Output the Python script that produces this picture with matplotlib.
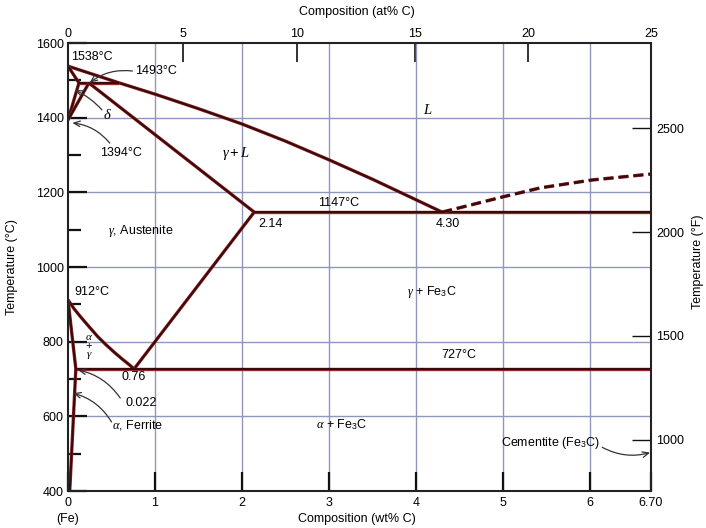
import matplotlib
matplotlib.use("Agg")
import matplotlib.pyplot as plt
import matplotlib.patheffects as pe

plt.rcParams["font.family"] = ["Liberation Sans", "DejaVu Sans"]
plt.rcParams["mathtext.fontset"] = "custom"
plt.rcParams["mathtext.rm"] = "Liberation Sans"
plt.rcParams["mathtext.it"] = "Liberation Serif:italic"
plt.rcParams["mathtext.bf"] = "Liberation Sans:bold"

# ---- phase boundaries, (wt% C, deg C) ----
liquidus_wt = [0.0, 0.59, 1.0, 1.5, 2.0, 2.5, 3.0, 3.5, 4.30]
liquidus_T = [1538, 1493, 1463, 1424, 1383, 1337, 1287, 1235, 1147]

delta_solidus_wt = [0.0, 0.126]
delta_solidus_T = [1538, 1493]
delta_solvus_wt = [0.126, 0.0]
delta_solvus_T = [1493, 1394]
peritectic_wt = [0.126, 0.59]
peritectic_T = [1493, 1493]
gamma_left_wt = [0.0, 0.24]
gamma_left_T = [1394, 1493]
gamma_solidus_wt = [0.24, 2.14]
gamma_solidus_T = [1493, 1147]

eutectic_wt = [2.14, 6.70]
eutectic_T = [1147, 1147]
cementite_liq_wt = [4.30, 4.66, 5.0, 5.43, 6.02, 6.70]
cementite_liq_T = [1147, 1168, 1188, 1212, 1233, 1249]

acm_wt = [2.14, 0.76]
acm_T = [1147, 727]
a3_wt = [0.0, 0.07, 0.15, 0.25, 0.34, 0.44, 0.53, 0.62, 0.70, 0.76]
a3_T = [912, 888, 865, 838, 814, 791, 772, 754, 739, 727]
alpha_gamma_wt = [0.0, 0.09]
alpha_gamma_T = [912, 727]
eutectoid_wt = [0.09, 6.70]
eutectoid_T = [727, 727]
alpha_solvus_wt = [0.09, 0.02]
alpha_solvus_T = [727, 400]

# ---- axes ticks ----
wt_ticks = [0, 1, 2, 3, 4, 5, 6, 6.70]
wt_tick_labels = ["0", "1", "2", "3", "4", "5", "6", "6.70"]
T_major = [400, 600, 800, 1000, 1200, 1400, 1600]
T_minor = [500, 700, 900, 1100, 1300, 1500]
at_tick_pos_wt = [0, 1.32, 2.63, 3.99, 5.29, 6.70]
at_tick_labels = ["0", "5", "10", "15", "20", "25"]
F_ticks = [1000, 1500, 2000, 2500]

W, H = 706, 528
fig = plt.figure(figsize=(W / 100, H / 100), dpi=100)
ax = fig.add_axes([68 / W, 37 / H, 583 / W, 448 / H])
ax.set_xlim(0, 6.70)
ax.set_ylim(400, 1600)

grid_c = "#8f97bd"
for x in [1, 2, 3, 4, 5, 6]:
    ax.axvline(x, color=grid_c, lw=1.0, zorder=1)
for y in [600, 800, 1000, 1200, 1400]:
    ax.axhline(y, color=grid_c, lw=1.0, zorder=1)

line_c = "#3a0a0b"
edge_c = "#9a2a2a"


def boundary(xs, ys, **kw):
    ax.plot(xs, ys, color=line_c, lw=1.5, zorder=3,
            solid_joinstyle="round", solid_capstyle="butt",
            path_effects=[pe.Stroke(linewidth=2.4, foreground=edge_c), pe.Normal()],
            **kw)


for xs, ys in [(liquidus_wt, liquidus_T), (delta_solidus_wt, delta_solidus_T),
               (delta_solvus_wt, delta_solvus_T), (peritectic_wt, peritectic_T),
               (gamma_left_wt, gamma_left_T), (gamma_solidus_wt, gamma_solidus_T),
               (eutectic_wt, eutectic_T), (acm_wt, acm_T), (a3_wt, a3_T),
               (alpha_gamma_wt, alpha_gamma_T), (eutectoid_wt, eutectoid_T),
               (alpha_solvus_wt, alpha_solvus_T)]:
    boundary(xs, ys)
ax.plot(cementite_liq_wt, cementite_liq_T, color=line_c, lw=1.8, zorder=3,
        dashes=(4.0, 2.0), dash_capstyle="butt",
        path_effects=[pe.Stroke(linewidth=2.5, foreground=edge_c), pe.Normal()])

# ---- frame and ticks ----
for s in ax.spines.values():
    s.set_color("#222222")
    s.set_linewidth(1.5)
    s.set_zorder(5)
ax.set_xticks(wt_ticks, wt_tick_labels)
ax.set_yticks(T_major)
ax.set_yticks(T_minor, minor=True)
ax.tick_params(axis="both", which="major", direction="in", length=14, width=1.6,
               color="#111111", labelsize=9, pad=3)
ax.tick_params(axis="y", which="minor", direction="in", length=9, width=1.6,
               color="#111111")
ax.tick_params(axis="x", which="major", pad=4)
ax.tick_params(axis="y", which="major", pad=3)

top = ax.secondary_xaxis("top", functions=(lambda v: v, lambda v: v))
top.set_xticks(at_tick_pos_wt, at_tick_labels)
top.tick_params(direction="in", length=14, width=1.2, color="#111111",
                labelsize=9, pad=2)
top.spines["top"].set_visible(False)


def c2f(c):
    return c * 9 / 5 + 32


def f2c(f):
    return (f - 32) * 5 / 9


right = ax.secondary_yaxis("right", functions=(c2f, f2c))
right.set_yticks(F_ticks)
right.tick_params(direction="in", length=14, width=1.0, color="#111111",
                  labelsize=9, pad=4)
right.spines["right"].set_visible(False)

# ---- axis titles ----
fig.text(357 / W, 1 - 12 / H, "Composition (at% C)", ha="center", va="center", fontsize=9)
fig.text(357 / W, 1 - 519 / H, "Composition (wt% C)", ha="center", va="center", fontsize=9)
fig.text(68 / W, 1 - 519 / H, "(Fe)", ha="center", va="center", fontsize=9)
fig.text(12 / W, 1 - 267 / H, "Temperature (°C)", ha="center", va="center",
         rotation=90, fontsize=9)
fig.text(698 / W, 1 - 262 / H, "Temperature (°F)", ha="center", va="center",
         rotation=90, fontsize=9)

# ---- labels inside the diagram ----
fs = 9


def label(x, y, s, ha="center", size=fs):
    ax.text(x, y, s, ha=ha, va="center", fontsize=size, zorder=6)


label(0.27, 1562, "1538°C")
label(1.01, 1525, "1493°C")
label(0.45, 1407, r"$\delta$", size=10.5)
label(0.61, 1305, "1394°C")
label(1.93, 1303, r"$\gamma + L$", size=10.5)
label(4.13, 1421, r"$L$", size=10.5)
label(3.11, 1171, "1147°C")
label(2.33, 1115, "2.14")
label(4.36, 1115, "4.30")
label(0.83, 1096, r"$\gamma$, Austenite")
label(0.27, 933, "912°C")
label(4.18, 933, r"$\gamma$ + Fe$_3$C")
label(0.24, 813, r"$\alpha$", size=8)
label(0.24, 789, "+", size=8)
label(0.24, 764, r"$\gamma$", size=8)
label(4.49, 764, "727°C")
label(0.75, 705, "0.76")
label(0.84, 636, "0.022")
label(0.80, 577, r"$\alpha$, Ferrite")
label(3.14, 577, r"$\alpha$ + Fe$_3$C")
label(5.54, 528, "Cementite (Fe$_3$C)")

arrow_kw = dict(arrowstyle="->,head_length=0.45,head_width=0.2", lw=0.9,
                color="#333333", shrinkA=0, shrinkB=0)
arrows = [
    ((0.74, 1525), (0.25, 1494), 0.2),
    ((0.39, 1421), (0.08, 1474), 0.1),
    ((0.48, 1332), (0.05, 1386), 0.2),
    ((0.60, 649), (0.115, 724), 0.2),
    ((0.50, 585), (0.06, 662), 0.2),
    ((6.14, 517), (6.69, 503), 0.2),
]
for tail, tip, rad in arrows:
    ax.annotate("", xy=tip, xytext=tail, zorder=6,
                arrowprops=dict(connectionstyle=f"arc3,rad={rad}", **arrow_kw))

fig.savefig("out.png", dpi=100)
